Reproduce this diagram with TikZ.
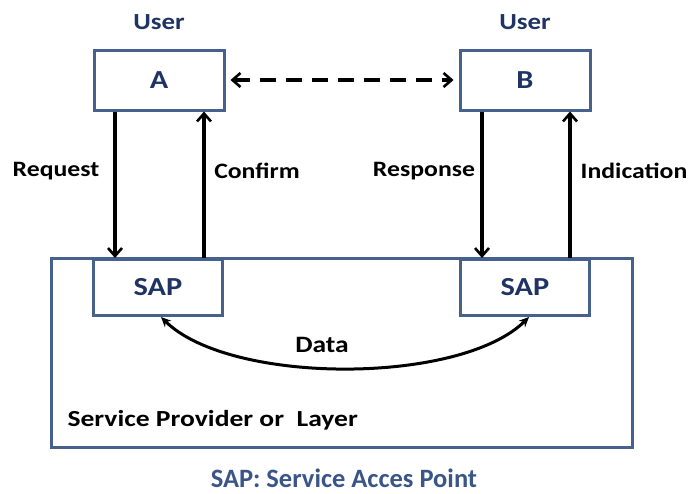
\documentclass[tikz,border=0pt]{standalone}
\usepackage{fontspec}
\usepackage{graphicx}
\setmainfont{Carlito}
\usetikzlibrary{arrows.meta}
\definecolor{navy}{RGB}{31,52,100}
\definecolor{framec}{RGB}{70,98,140}
\definecolor{titlec}{RGB}{58,85,135}
% Calibri-like text set slightly wide
\newcommand{\wide}[1]{\scalebox{1.17}[1]{#1}}
\tikzset{
  every node/.style={font=\bfseries},
  userbox/.style={draw=framec, line width=3pt, fill=white, minimum width=130pt, minimum height=60pt, text=navy, font=\bfseries\fontsize{26}{28}\selectfont},
  sapbox/.style={draw=framec, line width=3pt, fill=white, minimum width=129pt, minimum height=56pt, text=navy, font=\bfseries\fontsize{26}{28}\selectfont},
  userlbl/.style={text=navy, font=\bfseries\fontsize{23}{26}\selectfont},
  lbl/.style={text=black, font=\bfseries\fontsize{22}{25}\selectfont},
  barb/.tip={Straight Barb[length=8pt,width=14pt,line width=2.6pt]},
  flow/.style={line width=3.2pt, -barb},
}
\begin{document}
\begin{tikzpicture}[x=1pt,y=-1pt]
  \useasboundingbox (0,0) rectangle (688,493);
  % service provider layer
  \draw[framec, line width=3pt] (51,258) rectangle (632,447);
  % users
  \node[userbox] (A) at (159,80) {\wide{A}};
  \node[userbox] (B) at (525,80) {\wide{B}};
  \node[userlbl] (ua) at (159,22) {\wide{User}};
  \node[userlbl] (ub) at (525,22) {\wide{User}};
  % access points
  \node[sapbox, anchor=north] (S1) at (158,258) {\wide{SAP}};
  \node[sapbox, anchor=north] (S2) at (525,258) {\wide{SAP}};
  % peer link
  \draw[line width=3.2pt, dash pattern=on 16pt off 10pt, barb-barb]
        ([xshift=5pt]A.east) -- ([xshift=-5pt]B.west);
  % primitives
  \draw[flow] (A.south -| 115,0) -- (S1.north -| 115,0);
  \draw[flow] (S1.north -| 204,0) -- (A.south -| 204,0);
  \draw[flow] (B.south -| 482,0) -- (S2.north -| 482,0);
  \draw[flow] (S2.north -| 570,0) -- (B.south -| 570,0);
  \node[lbl] (req) at (56,171) {\wide{Request}};
  \node[lbl] (con) at (257,171) {\wide{Confirm}};
  \node[lbl] (res) at (424,171) {\wide{Response}};
  \node[lbl] (ind) at (634,171) {\wide{Indication}};
  % data exchange
  \draw[line width=3pt, {Stealth[length=10pt,width=9pt]}-{Stealth[length=10pt,width=9pt]}]
        (161,317) .. controls (230,385) and (460,385) .. (529,317);
  \node[lbl, font=\bfseries\fontsize{23.5}{26}\selectfont] (data) at (322,345) {\wide{Data}};
  \node[lbl, anchor=west, font=\bfseries\fontsize{23}{26}\selectfont] (spl) at (64,420) {\scalebox{1.2}[1]{Service Provider or\ \ Layer}};
  \node[text=titlec, font=\bfseries\fontsize{26.5}{30}\selectfont] (cap) at (344,478) {SAP: Service Acces Point};
\end{tikzpicture}
\end{document}
